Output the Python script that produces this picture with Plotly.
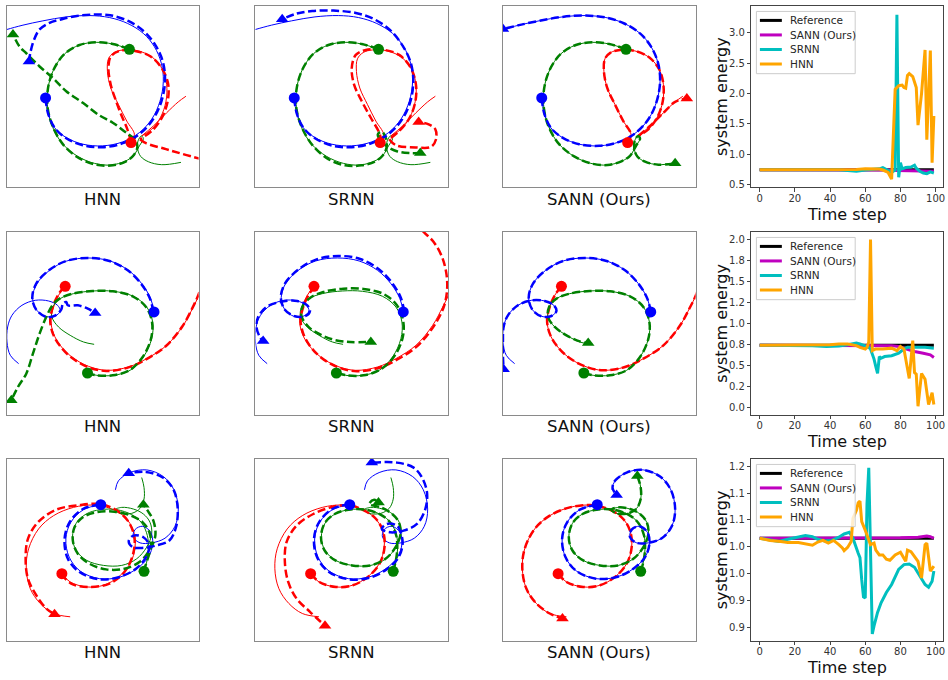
import plotly.graph_objects as go

# ---------------------------------------------------------------------------
# System energy over time (one list per series, per row)
# ---------------------------------------------------------------------------
E1_REF_T = [0, 99]
E1_REF = [0.745, 0.745]
E1_SANN_T = [0, 70, 75, 78, 80, 85, 90, 95, 99]
E1_SANN = [0.745, 0.745, 0.74, 0.73, 0.728, 0.725, 0.722, 0.72, 0.72]
E1_SRNN_T = [0, 45, 50, 55, 60, 65, 68, 70, 72, 74, 75, 77, 78, 79, 80, 81, 83, 86, 88, 89, 91, 93, 95, 97, 99]
E1_SRNN = [0.745, 0.745, 0.73, 0.72, 0.74, 0.745, 0.76, 0.78, 0.75, 0.72, 0.70, 0.74, 3.30, 0.62, 0.86,
           0.76, 0.78, 0.79, 0.82, 0.77, 0.72, 0.69, 0.68, 0.71, 0.69]
E1_HNN_T = [0, 50, 55, 60, 65, 68, 70, 72, 73, 75, 77, 79, 81, 82, 83, 84, 85, 87, 89, 90, 92, 94, 95, 97, 98, 99]
E1_HNN = [0.745, 0.745, 0.75, 0.76, 0.76, 0.755, 0.74, 0.72, 0.70, 0.59, 2.07, 2.13, 2.14, 2.10, 2.09,
          2.30, 2.33, 2.28, 2.10, 1.48, 2.00, 2.72, 1.24, 2.71, 0.86, 1.63]

E2_REF_T = [0, 99]
E2_REF = [0.745, 0.745]
E2_SANN_T = [0, 60, 70, 75, 79, 83, 88, 93, 97, 99]
E2_SANN = [0.745, 0.745, 0.745, 0.74, 0.73, 0.70, 0.67, 0.65, 0.63, 0.60]
E2_SRNN_T = [0, 20, 30, 38, 45, 50, 55, 57, 60, 62, 63, 65, 66, 67, 68, 69, 71, 75, 79, 82, 84, 88, 94, 99]
E2_SRNN = [0.745, 0.745, 0.74, 0.73, 0.735, 0.75, 0.77, 0.76, 0.74, 0.72, 0.70, 0.58, 0.49, 0.41, 0.61,
           0.59, 0.61, 0.62, 0.65, 0.70, 0.72, 0.72, 0.72, 0.71]
E2_HNN_T = [0, 40, 45, 50, 55, 57, 60, 61, 62, 63, 64, 66, 70, 75, 78, 80, 82, 83, 84, 85, 87, 88, 89, 90,
            92, 94, 96, 98, 99]
E2_HNN = [0.745, 0.75, 0.76, 0.76, 0.74, 0.72, 0.70, 0.72, 0.78, 2.00, 0.68, 0.70, 0.70, 0.71, 0.68, 0.73,
          0.70, 0.57, 0.45, 0.35, 0.80, 0.42, 0.40, 0.02, 0.41, 0.34, 0.04, 0.18, 0.04]

E3_REF_T = [0, 99]
E3_REF = [1.066, 1.066]
E3_SANN_T = [0, 20, 40, 60, 80, 90, 95, 97, 99]
E3_SANN = [1.066, 1.066, 1.067, 1.067, 1.067, 1.068, 1.070, 1.069, 1.066]
E3_SRNN_T = [0, 5, 11, 16, 22, 26, 30, 33, 37, 41, 45, 48, 51, 53, 56, 57, 58, 59, 60, 61, 62, 63, 64, 65,
             67, 69, 72, 75, 79, 82, 85, 88, 91, 94, 96, 98, 99]
E3_SRNN = [1.066, 1.063, 1.060, 1.064, 1.069, 1.071, 1.069, 1.064, 1.061, 1.062, 1.068, 1.074, 1.077, 1.066,
           1.038, 1.030, 0.989, 0.957, 0.955, 1.130, 1.197, 1.038, 0.888, 0.903, 0.928, 0.946, 0.965, 0.980,
           1.008, 1.017, 1.018, 1.012, 0.997, 0.980, 0.975, 0.986, 1.005]
E3_HNN_T = [0, 6, 12, 16, 22, 26, 30, 33, 36, 39, 42, 45, 47, 48, 50, 52, 53, 55, 56, 57, 58, 60, 62, 63, 65,
            66, 68, 70, 72, 74, 77, 80, 83, 84, 86, 90, 92, 94, 95, 96, 97, 99]
E3_HNN = [1.066, 1.062, 1.060, 1.058, 1.058, 1.056, 1.053, 1.059, 1.062, 1.057, 1.062, 1.054, 1.048, 1.043,
          1.049, 1.060, 1.103, 1.118, 1.132, 1.135, 1.097, 1.081, 1.062, 1.054, 1.057, 1.044, 1.035, 1.035,
          1.027, 1.025, 1.035, 1.040, 1.023, 1.044, 1.041, 1.023, 0.992, 1.054, 1.057, 1.032, 1.005, 1.014]

# Axis ticks of the energy plots (labels rounded to one decimal)
X_TICKS = [0, 20, 40, 60, 80, 100]
E1_YTICKS = [0.5, 1.0, 1.5, 2.0, 2.5, 3.0]
E1_YTICKTEXT = ["0.5", "1.0", "1.5", "2.0", "2.5", "3.0"]
E2_YTICKS = [0.0, 0.25, 0.5, 0.75, 1.0, 1.25, 1.5, 1.75, 2.0]
E2_YTICKTEXT = ["0.0", "0.2", "0.5", "0.8", "1.0", "1.2", "1.5", "1.8", "2.0"]
E3_YTICKS = [0.90, 0.95, 1.00, 1.05, 1.10, 1.15, 1.20]
E3_YTICKTEXT = ["0.9", "0.9", "1.0", "1.0", "1.1", "1.1", "1.2"]

SERIES_NAMES = ["Reference", "SANN (Ours)", "SRNN", "HNN"]
METHODS = ["HNN", "SRNN", "SANN (Ours)"]

# ---------------------------------------------------------------------------
# Three-body trajectories (x, y) in panel units; None splits a path at a cusp
# ---------------------------------------------------------------------------
# Row 1 ground truth
R1_TRUE_RED = [(373, 135), (383, 160), (360, 200), (335, 250), (312, 300), (302, 350), (305, 388), (322, 407),
               (350, 415), (395, 412), (438, 392), (468, 355), (480, 310), (478, 260), (462, 212), (435, 175),
               (405, 155), None, (405, 155), (440, 185), (480, 225), (515, 258), (538, 275)]
R1_TRUE_GREEN = [(368, 417), (318, 433), (268, 438), (218, 430), (173, 403), (140, 355), (123, 297), (123, 235),
                 (138, 180), (168, 130), (213, 93), (263, 72), (313, 67), (356, 79), (380, 95), (398, 125),
                 (410, 147), (404, 155), (394, 140), (393, 115), (402, 93), (425, 77), (465, 68), (523, 75)]
R1_TRUE_BLUE = [(116, 270), (123, 225), (143, 180), (178, 150), (228, 130), (288, 125), (348, 137), (398, 165),
                (436, 207), (460, 260), (470, 320), (464, 375), (443, 425), (410, 465), (363, 495), (308, 513),
                (248, 519), (178, 515), (108, 503), (48, 490), (0, 477), (-30, 468)]

# Row 1 predictions
HNN1_RED = [(373, 135), (362, 175), (345, 215), (328, 260), (312, 310), (305, 360), (312, 395), (338, 412),
            (385, 412), (432, 395), (465, 360), (484, 315), (484, 265), (468, 215), (440, 175), (400, 145), None,
            (400, 145), (418, 133), (478, 115), (540, 97), (620, 75)]
HNN1_GREEN = [(368, 417), (318, 433), (268, 438), (218, 430), (173, 403), (140, 355), (123, 297), (123, 235),
              (140, 178), (172, 125), (218, 87), (268, 68), (318, 66), (358, 78), (382, 98), (392, 122), (386, 145),
              None, (386, 145), (358, 165), (318, 195), (278, 217), (228, 255), (178, 290), (138, 330), (98, 365),
              (58, 405), (38, 425), (18, 462)]
HNN1_BLUE = [(116, 270), (123, 225), (143, 180), (178, 148), (228, 127), (288, 121), (348, 133), (400, 162),
             (440, 207), (465, 262), (475, 322), (469, 378), (447, 428), (413, 470), (366, 502), (310, 520),
             (258, 522), (210, 518), (165, 508), (128, 497), (98, 477), (81, 445), (71, 410), (66, 380)]

SRNN1_RED = [(378, 135), (370, 165), (345, 210), (318, 260), (295, 310), (288, 360), (300, 400), (330, 415),
             (380, 416), (430, 400), (465, 360), (480, 310), (478, 258), (460, 208), (430, 170), (400, 145), None,
             (400, 145), (420, 127), (480, 120), (525, 122), (540, 145), (538, 175), (518, 190), (488, 197)]
SRNN1_GREEN = [(368, 417), (318, 433), (268, 438), (218, 430), (173, 403), (140, 355), (123, 297), (123, 235),
               (140, 178), (172, 125), (218, 85), (268, 66), (318, 66), (358, 78), (380, 95), (392, 120),
               (390, 148), (378, 168), (366, 160), (375, 140), (395, 122), (425, 108), (460, 103), (493, 103)]
SRNN1_BLUE = [(116, 270), (123, 225), (143, 180), (178, 148), (228, 126), (288, 121), (348, 133), (400, 162),
              (440, 207), (464, 262), (472, 322), (464, 378), (440, 428), (403, 475), (355, 508), (300, 527),
              (233, 534), (170, 533), (120, 524), (80, 508)]

SANN1_RED = [(373, 135), (383, 160), (360, 200), (335, 250), (312, 300), (302, 350), (305, 388), (322, 407),
             (350, 415), (395, 412), (438, 392), (468, 355), (480, 310), (478, 260), (462, 212), (435, 175),
             (405, 155), None, (405, 155), (440, 185), (480, 225), (515, 258), (550, 268)]
SANN1_GREEN = [(368, 417), (318, 433), (268, 438), (218, 430), (173, 403), (140, 355), (123, 297), (123, 235),
               (138, 180), (168, 130), (213, 93), (263, 72), (313, 67), (356, 79), (380, 95), (398, 125),
               (410, 147), (404, 155), (394, 140), (393, 115), (402, 93), (425, 77), (465, 68), (515, 72)]
SANN1_BLUE = [(116, 270), (123, 225), (143, 180), (178, 150), (228, 130), (288, 125), (348, 137), (398, 165),
              (436, 207), (460, 260), (470, 320), (464, 375), (443, 425), (410, 465), (363, 495), (308, 513),
              (248, 519), (178, 515), (108, 503), (48, 490), (0, 478)]

# Row 2 ground truth
R2_TRUE_RED = [(175, 385), (155, 358), (140, 323), (132, 283), (140, 243), (160, 208), (195, 173), (245, 145),
               (300, 133), (365, 143), (420, 168), (480, 208), (530, 268), (560, 323), (577, 358), (595, 410),
               (610, 450)]
R2_TRUE_GREEN = [(242, 125), (270, 118), (320, 118), (370, 133), (410, 173), (435, 228), (438, 278), (420, 323),
                 (380, 355), (320, 370), (260, 371), (200, 363), (160, 348), (138, 323), (135, 293), (155, 263),
                 (190, 238), (230, 218), (262, 211)]
R2_TRUE_BLUE = [(442, 308), (432, 348), (405, 393), (365, 433), (310, 461), (245, 470), (180, 461), (128, 433),
                (90, 393), (77, 351), (88, 315), (115, 295), (145, 296), (160, 311), (152, 328), (125, 341),
                (85, 343), (45, 328), (15, 298), (2, 263), (0, 218), (10, 178), (35, 153)]

# Row 2 predictions
HNN2_RED = [(173, 385), (153, 358), (138, 323), (130, 283), (138, 243), (158, 208), (193, 172), (243, 143),
            (298, 131), (363, 141), (418, 166), (478, 206), (528, 266), (558, 321), (575, 358), (593, 410),
            (608, 450)]
HNN2_GREEN = [(240, 125), (268, 118), (318, 118), (368, 133), (408, 173), (433, 228), (436, 278), (418, 323),
              (378, 355), (318, 370), (258, 371), (198, 363), (158, 348), (138, 330), (118, 293), (98, 243),
              (78, 183), (58, 123), (33, 83), (13, 43)]
HNN2_BLUE = [(440, 308), (430, 348), (403, 393), (363, 433), (308, 461), (243, 470), (178, 461), (126, 433),
             (88, 393), (76, 351), (88, 315), (118, 293), (146, 298), (163, 315), (168, 333), (178, 338),
             (183, 328), (213, 328), (243, 318), (265, 305)]

SRNN2_RED = [(178, 385), (158, 358), (143, 323), (135, 283), (143, 243), (163, 206), (198, 170), (248, 142),
             (303, 130), (368, 140), (423, 165), (483, 205), (533, 265), (563, 323), (573, 373), (571, 423),
             (558, 473), (533, 518), (503, 548), (480, 575)]
SRNN2_GREEN = [(245, 125), (273, 118), (323, 118), (373, 135), (415, 175), (440, 230), (442, 280), (423, 328),
               (383, 362), (323, 377), (263, 378), (203, 368), (163, 350), (141, 325), (138, 295), (160, 262),
               (195, 240), (233, 225), (283, 218), (345, 218)]
SRNN2_BLUE = [(445, 308), (435, 350), (408, 396), (368, 437), (313, 467), (248, 476), (183, 466), (128, 435),
              (88, 393), (76, 351), (88, 315), (118, 295), (150, 296), (163, 311), (155, 328), (125, 341),
              (73, 338), (33, 323), (8, 293), (3, 263), (13, 233), (23, 221)]

SANN2_RED = [(175, 385), (155, 358), (140, 323), (132, 283), (140, 243), (160, 208), (195, 173), (245, 145),
             (300, 133), (365, 143), (420, 168), (480, 208), (530, 268), (560, 323), (577, 358), (595, 410),
             (610, 450)]
SANN2_GREEN = [(242, 125), (270, 118), (320, 118), (370, 133), (410, 173), (435, 228), (438, 278), (420, 323),
               (380, 355), (320, 370), (260, 371), (200, 363), (160, 348), (138, 323), (135, 293), (155, 263),
               (190, 238), (230, 220), (255, 215)]
SANN2_BLUE = [(442, 308), (432, 348), (405, 393), (365, 433), (310, 461), (245, 470), (180, 461), (128, 433),
              (90, 393), (77, 351), (88, 315), (115, 295), (145, 296), (160, 311), (152, 328), (125, 341),
              (85, 343), (45, 328), (15, 298), (2, 263), (0, 218), (0, 178), (2, 136)]

# Row 3 ground truth
R3_TRUE_RED = [(165, 202), (190, 177), (240, 162), (290, 167), (335, 192), (370, 232), (385, 282), (380, 332),
               (355, 372), (310, 399), (260, 409), (200, 402), (140, 377), (95, 337), (65, 277), (58, 217),
               (70, 157), (100, 112), (140, 82), (190, 72)]
R3_TRUE_GREEN = [(412, 209), (420, 237), (425, 277), (422, 317), (405, 355), (375, 380), (330, 395), (280, 395),
                 (238, 382), (208, 354), (197, 312), (208, 272), (240, 242), (290, 227), (345, 227), (390, 247),
                 (420, 282), (435, 322), (430, 357), (410, 382), (380, 397), (345, 402), (325, 395), (340, 384),
                 (375, 384), (400, 399), (412, 427), (412, 462), (405, 492)]
R3_TRUE_BLUE = [(282, 410), (230, 395), (192, 357), (177, 307), (187, 252), (220, 210), (278, 187), (340, 192),
                (390, 217), (425, 252), (438, 292), (432, 327), (408, 345), (385, 335), (380, 312), (400, 295),
                (435, 295), (475, 309), (505, 345), (515, 397), (502, 455), (470, 495), (420, 515), (370, 507),
                (335, 482), (326, 455)]

# Row 3 predictions
HNN3_RED = [(163, 202), (193, 172), (248, 162), (308, 172), (353, 207), (378, 257), (383, 312), (363, 362),
            (323, 397), (278, 412), (218, 409), (148, 395), (93, 357), (63, 307), (56, 247), (63, 187), (88, 137),
            (118, 97), (143, 80)]
HNN3_GREEN = [(410, 209), (423, 247), (433, 287), (428, 327), (408, 357), (373, 377), (323, 389), (268, 387),
              (228, 372), (203, 342), (198, 302), (213, 262), (248, 232), (298, 215), (353, 217), (398, 237),
              (428, 272), (446, 317), (440, 362), (423, 392), (410, 410)]
HNN3_BLUE = [(280, 410), (228, 397), (188, 357), (173, 305), (183, 247), (218, 207), (278, 185), (338, 192),
             (388, 217), (418, 252), (428, 287), (410, 312), (380, 317), (366, 300), (378, 282), (410, 280),
             (448, 287), (488, 302), (508, 342), (513, 402), (500, 457), (468, 492), (418, 509), (366, 505)]

SRNN3_RED = [(166, 202), (191, 177), (241, 162), (291, 167), (336, 192), (371, 232), (386, 282), (381, 332),
             (356, 372), (311, 399), (283, 409), (233, 404), (173, 382), (123, 347), (93, 297), (88, 237),
             (98, 177), (123, 127), (163, 87), (208, 45)]
SRNN3_GREEN = [(411, 209), (419, 237), (424, 277), (421, 317), (404, 355), (374, 380), (329, 395), (279, 395),
               (237, 382), (207, 354), (196, 312), (207, 272), (239, 242), (289, 227), (344, 227), (389, 247),
               (419, 282), (434, 322), (429, 357), (409, 382), (375, 402), (340, 412), (355, 425), (368, 417)]
SRNN3_BLUE = [(283, 412), (230, 397), (190, 357), (175, 305), (185, 250), (220, 207), (280, 185), (342, 190),
              (392, 215), (427, 250), (440, 290), (435, 325), (423, 347), (393, 352), (378, 337), (403, 327),
              (443, 332), (483, 352), (508, 397), (513, 447), (498, 492), (473, 522), (423, 537), (348, 537)]

SANN3_RED = [(165, 202), (190, 177), (240, 162), (290, 167), (335, 192), (370, 232), (385, 282), (380, 332),
             (355, 372), (310, 399), (260, 409), (200, 402), (140, 377), (95, 337), (65, 277), (58, 217),
             (70, 157), (100, 112), (140, 82), (178, 67)]
SANN3_GREEN = [(412, 209), (420, 237), (425, 277), (422, 317), (405, 355), (375, 380), (330, 395), (280, 395),
               (238, 382), (208, 354), (197, 312), (208, 272), (240, 242), (290, 227), (345, 227), (390, 247),
               (420, 282), (435, 322), (430, 357), (410, 382), (380, 397), (345, 402), (325, 395), (340, 384),
               (375, 384), (400, 399), (412, 427), (412, 462), (402, 497)]
SANN3_BLUE = [(282, 410), (230, 395), (192, 357), (177, 307), (187, 252), (220, 210), (278, 187), (340, 192),
              (390, 217), (425, 252), (438, 292), (432, 327), (408, 345), (385, 335), (380, 312), (400, 295),
              (435, 295), (475, 309), (505, 345), (515, 397), (502, 455), (470, 495), (420, 515), (370, 507),
              (335, 482), (328, 460), (340, 439)]

TRUTH = [
    (R1_TRUE_RED, R1_TRUE_GREEN, R1_TRUE_BLUE),
    (R2_TRUE_RED, R2_TRUE_GREEN, R2_TRUE_BLUE),
    (R3_TRUE_RED, R3_TRUE_GREEN, R3_TRUE_BLUE),
]
PREDICTIONS = [
    [(HNN1_RED, HNN1_GREEN, HNN1_BLUE), (SRNN1_RED, SRNN1_GREEN, SRNN1_BLUE), (SANN1_RED, SANN1_GREEN, SANN1_BLUE)],
    [(HNN2_RED, HNN2_GREEN, HNN2_BLUE), (SRNN2_RED, SRNN2_GREEN, SRNN2_BLUE), (SANN2_RED, SANN2_GREEN, SANN2_BLUE)],
    [(HNN3_RED, HNN3_GREEN, HNN3_BLUE), (SRNN3_RED, SRNN3_GREEN, SRNN3_BLUE), (SANN3_RED, SANN3_GREEN, SANN3_BLUE)],
]
ENERGY = [
    [(E1_REF_T, E1_REF), (E1_SANN_T, E1_SANN), (E1_SRNN_T, E1_SRNN), (E1_HNN_T, E1_HNN)],
    [(E2_REF_T, E2_REF), (E2_SANN_T, E2_SANN), (E2_SRNN_T, E2_SRNN), (E2_HNN_T, E2_HNN)],
    [(E3_REF_T, E3_REF), (E3_SANN_T, E3_SANN), (E3_SRNN_T, E3_SRNN), (E3_HNN_T, E3_HNN)],
]
E_YTICKS = [(E1_YTICKS, E1_YTICKTEXT), (E2_YTICKS, E2_YTICKTEXT), (E3_YTICKS, E3_YTICKTEXT)]
E_YRANGE = [[0.457, 3.445], [-0.08, 2.09], [0.8755, 1.2135]]

# ---------------------------------------------------------------------------
# Layout geometry (pixels)
# ---------------------------------------------------------------------------
W, H = 948, 680
COL_PX = [(7, 199), (256, 449), (504, 697), (753, 945)]
ROW_PX = [(6, 188), (233, 416.5), (461, 643.5)]
BODY_COLORS = ["#ff0000", "#008000", "#0000ff"]
SERIES_COLORS = ["#000000", "#bf00bf", "#00bfbf", "#ffa500"]
FONT = "DejaVu Sans"


def px_x(x):
    return x / W


def px_y(y):
    return 1 - y / H


fig = go.Figure()
layout = dict(
    width=W, height=H, autosize=False,
    margin=dict(l=0, r=0, t=0, b=0),
    paper_bgcolor="white", plot_bgcolor="white",
    showlegend=False,
    font=dict(family=FONT, color="#262626"),
    shapes=[], annotations=[],
)


def axis_names(k):
    return ("x" if k == 1 else f"x{k}"), ("y" if k == 1 else f"y{k}")


def split_xy(points):
    xs = [p[0] if p is not None else None for p in points]
    ys = [p[1] if p is not None else None for p in points]
    return xs, ys


for r in range(3):
    y0, y1 = ROW_PX[r]
    for c in range(4):
        k = r * 4 + c + 1
        xa, ya = axis_names(k)
        xkey = "xaxis" if k == 1 else f"xaxis{k}"
        ykey = "yaxis" if k == 1 else f"yaxis{k}"
        x0, x1 = COL_PX[c]
        xdom = [px_x(x0), px_x(x1)]
        ydom = [px_y(y1), px_y(y0)]
        if c < 3:
            frame = dict(showgrid=False, zeroline=False, showticklabels=False, ticks="",
                         showline=True, mirror=True, linecolor="#8a8a8a", linewidth=1, fixedrange=True)
            layout[xkey] = dict(domain=xdom, anchor=ya, range=[0, 576], **frame)
            layout[ykey] = dict(domain=ydom, anchor=xa, range=[0, 548], **frame)

            truth = TRUTH[r]
            preds = PREDICTIONS[r][c]
            # ground-truth orbits: thin solid lines
            for pts, col in zip(truth, BODY_COLORS):
                xs, ys = split_xy(pts)
                fig.add_trace(go.Scatter(x=xs, y=ys, mode="lines", xaxis=xa, yaxis=ya, hoverinfo="skip",
                                         line=dict(color=col, width=1, shape="spline", smoothing=1.0)))
            # predicted orbits: thick dashed lines
            for pts, col in zip(preds, BODY_COLORS):
                xs, ys = split_xy(pts)
                fig.add_trace(go.Scatter(x=xs, y=ys, mode="lines", xaxis=xa, yaxis=ya, hoverinfo="skip",
                                         line=dict(color=col, width=2.5, dash="8px,3.5px",
                                                   shape="spline", smoothing=1.0)))
            # start positions (circles) and predicted end positions (triangles)
            for pts_t, pts_p, col in zip(truth, preds, BODY_COLORS):
                fig.add_trace(go.Scatter(x=[pts_t[0][0]], y=[pts_t[0][1]], mode="markers", xaxis=xa, yaxis=ya,
                                         hoverinfo="skip", cliponaxis=True,
                                         marker=dict(symbol="circle", size=11, color=col)))
                fig.add_trace(go.Scatter(x=[pts_p[-1][0]], y=[pts_p[-1][1]], mode="markers", xaxis=xa, yaxis=ya,
                                         hoverinfo="skip", cliponaxis=True,
                                         marker=dict(symbol="triangle-up", size=11, color=col)))
            # method label under the panel
            layout["annotations"].append(dict(
                text=METHODS[c], xref="paper", yref="paper",
                x=px_x((x0 + x1) / 2), y=px_y(y1 + 12), xanchor="center", yanchor="middle",
                showarrow=False, font=dict(size=16.5, family=FONT, color="#111")))
        else:
            tv, tt = E_YTICKS[r]
            common = dict(showgrid=False, zeroline=False, showline=True, mirror=True, linecolor="#444",
                          linewidth=1, ticks="outside", ticklen=3.5, tickwidth=1, tickcolor="#444",
                          tickfont=dict(size=10, family=FONT, color="#333"), fixedrange=True)
            layout[xkey] = dict(domain=xdom, anchor=ya, range=[-4.7, 104.2], tickvals=X_TICKS,
                                ticktext=[str(v) for v in X_TICKS], ticklabelstandoff=-2, **common)
            layout[ykey] = dict(domain=ydom, anchor=xa, range=E_YRANGE[r], tickvals=tv, ticktext=tt, **common)
            for (t, v), col in zip(ENERGY[r], SERIES_COLORS):
                fig.add_trace(go.Scatter(x=t, y=v, mode="lines", xaxis=xa, yaxis=ya, hoverinfo="skip",
                                         line=dict(color=col, width=3)))
            # axis titles
            layout["annotations"].append(dict(
                text="system energy", textangle=-90, xref="paper", yref="paper",
                x=px_x(723), y=px_y((y0 + y1) / 2), xanchor="center", yanchor="middle", showarrow=False,
                font=dict(size=16, family=FONT, color="#111")))
            layout["annotations"].append(dict(
                text="Time step", xref="paper", yref="paper",
                x=px_x((x0 + x1) / 2), y=px_y(y1 + 27), xanchor="center", yanchor="middle", showarrow=False,
                font=dict(size=16, family=FONT, color="#111")))
            # legend box
            top = y0
            layout["shapes"].append(dict(
                type="rect", xref="paper", yref="paper", layer="above",
                x0=px_x(758), x1=px_x(857), y0=px_y(top + 5.5), y1=px_y(top + 68),
                fillcolor="rgba(255,255,255,0.8)", line=dict(color="#cccccc", width=1)))
            for i, (name, col) in enumerate(zip(SERIES_NAMES, SERIES_COLORS)):
                yy = top + 14.5 + 14.6 * i
                layout["shapes"].append(dict(
                    type="line", xref="paper", yref="paper", layer="above",
                    x0=px_x(761.5), x1=px_x(783.5), y0=px_y(yy), y1=px_y(yy),
                    line=dict(color=col, width=3)))
                layout["annotations"].append(dict(
                    text=name, xref="paper", yref="paper", x=px_x(790), y=px_y(yy),
                    xanchor="left", yanchor="middle", showarrow=False,
                    font=dict(size=10.5, family=FONT, color="#262626")))

fig.update_layout(**layout)
fig.write_html("out.html", config={"displayModeBar": False})
